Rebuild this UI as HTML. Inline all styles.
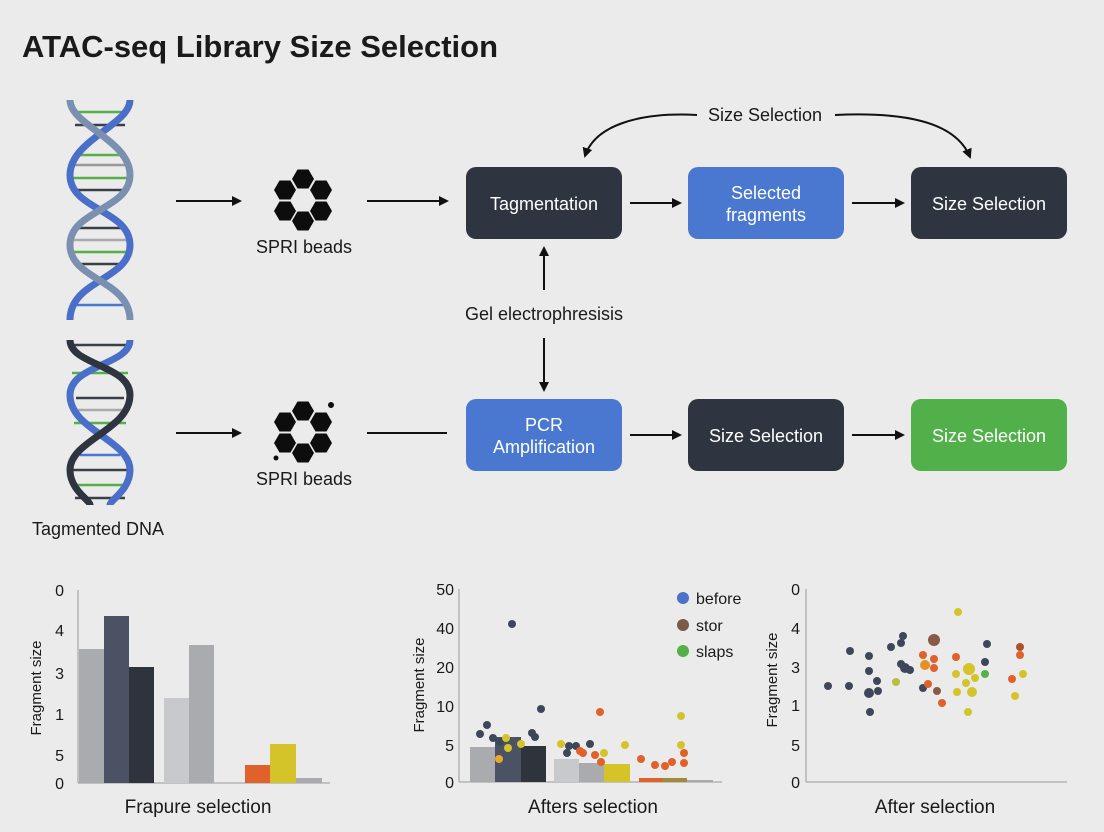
<!DOCTYPE html>
<html><head><meta charset="utf-8"><style>
html,body{margin:0;padding:0;background:#ebebeb;}
svg{display:block;font-family:"Liberation Sans","DejaVu Sans",sans-serif;}
</style></head><body>
<svg width="1104" height="832" viewBox="0 0 1104 832" xmlns="http://www.w3.org/2000/svg">
<defs>
<marker id="ah" markerWidth="10" markerHeight="10" refX="8" refY="5" orient="auto" markerUnits="userSpaceOnUse"><path d="M0,0 L10,5 L0,10 z" fill="#111"/></marker>
<g id="hex"><polygon points="-11,0 -5.5,-9.5 5.5,-9.5 11,0 5.5,9.5 -5.5,9.5" fill="#0d0d0d"/></g>
<g id="beads">
<use href="#hex" x="0" y="-21"/><use href="#hex" x="18" y="-10"/><use href="#hex" x="18" y="11"/>
<use href="#hex" x="0" y="21"/><use href="#hex" x="-18" y="11"/><use href="#hex" x="-18" y="-10"/>
</g>
</defs>
<rect width="1104" height="832" fill="#ebebeb"/>
<text x="22" y="57" font-size="31" font-weight="bold" fill="#1a1a1a">ATAC-seq Library Size Selection</text>

<!-- DNA -->
<g stroke-width="2.5">
<g stroke="#3a3f48">
<line x1="72" y1="112" x2="128" y2="112" stroke="#55b04a"/><line x1="75" y1="125" x2="125" y2="125"/><line x1="80" y1="155" x2="120" y2="155" stroke="#55b04a"/><line x1="74" y1="165" x2="126" y2="165" stroke="#999"/><line x1="72" y1="178" x2="128" y2="178" stroke="#55b04a"/><line x1="74" y1="190" x2="126" y2="190"/><line x1="78" y1="228" x2="122" y2="228"/><line x1="73" y1="240" x2="127" y2="240" stroke="#aaa"/><line x1="72" y1="252" x2="128" y2="252" stroke="#55b04a"/><line x1="74" y1="264" x2="126" y2="264"/><line x1="74" y1="305" x2="126" y2="305" stroke="#4a78d0"/>
<line x1="74" y1="345" x2="126" y2="345"/><line x1="72" y1="373" x2="128" y2="373" stroke="#55b04a"/><line x1="76" y1="398" x2="124" y2="398"/><line x1="72" y1="410" x2="128" y2="410" stroke="#aaa"/><line x1="74" y1="423" x2="126" y2="423" stroke="#55b04a"/><line x1="80" y1="455" x2="120" y2="455" stroke="#4a78d0"/><line x1="73" y1="470" x2="127" y2="470"/><line x1="72" y1="485" x2="128" y2="485" stroke="#55b04a"/><line x1="75" y1="498" x2="125" y2="498"/>
</g>
<g fill="none" stroke-width="7">
<path d="M130,100 C130,125 70,140 70,175 C70,210 130,210 130,245 C130,280 70,280 70,320" stroke="#4a6fc8"/>
<path d="M70,100 C70,125 130,140 130,175 C130,210 70,210 70,245 C70,280 130,280 130,320" stroke="#7b90b0"/>
<path d="M130,340 C130,365 70,365 70,395 C70,430 130,440 130,470 C130,490 110,500 110,505" stroke="#4a6fc8"/>
<path d="M70,340 C70,365 130,365 130,395 C130,430 70,440 70,470 C70,490 90,500 90,505" stroke="#2e3440"/>
</g>
</g>
<text x="32" y="535" font-size="18" fill="#1a1a1a">Tagmented DNA</text>

<!-- beads -->
<use href="#beads" x="303" y="200"/>
<use href="#beads" x="303" y="432"/>
<circle cx="331" cy="405" r="3" fill="#0d0d0d"/><circle cx="276" cy="458" r="2.5" fill="#0d0d0d"/>
<text x="304" y="253" font-size="18" text-anchor="middle" fill="#1a1a1a">SPRI beads</text>
<text x="304" y="485" font-size="18" text-anchor="middle" fill="#1a1a1a">SPRI beads</text>

<!-- arrows -->
<g stroke="#111" stroke-width="2" marker-end="url(#ah)">
<line x1="176" y1="201" x2="240" y2="201"/>
<line x1="367" y1="201" x2="447" y2="201"/>
<line x1="630" y1="203" x2="680" y2="203"/>
<line x1="852" y1="203" x2="903" y2="203"/>
<line x1="176" y1="433" x2="240" y2="433"/>
<line x1="630" y1="435" x2="680" y2="435"/>
<line x1="852" y1="435" x2="903" y2="435"/>
<line x1="544" y1="290" x2="544" y2="248"/>
<line x1="544" y1="338" x2="544" y2="390"/>
<path d="M697,115 C640,112 595,125 585,156" fill="none"/>
<path d="M835,115 C900,112 955,120 970,157" fill="none"/>
</g>
<line x1="367" y1="433" x2="447" y2="433" stroke="#111" stroke-width="2"/>
<text x="765" y="121" font-size="18" text-anchor="middle" fill="#1a1a1a">Size Selection</text>
<text x="544" y="320" font-size="18" text-anchor="middle" fill="#1a1a1a">Gel electrophresisis</text>

<!-- boxes -->
<g font-size="18" text-anchor="middle" fill="#fff">
<rect x="466" y="167" width="156" height="72" rx="10" fill="#2f3540"/>
<text x="544" y="210">Tagmentation</text>
<rect x="688" y="167" width="156" height="72" rx="10" fill="#4a78d0"/>
<text x="766" y="199">Selected</text><text x="766" y="221">fragments</text>
<rect x="911" y="167" width="156" height="72" rx="10" fill="#2f3540"/>
<text x="989" y="210">Size Selection</text>
<rect x="466" y="399" width="156" height="72" rx="10" fill="#4a78d0"/>
<text x="544" y="431">PCR</text><text x="544" y="453">Amplification</text>
<rect x="688" y="399" width="156" height="72" rx="10" fill="#2f3540"/>
<text x="766" y="442">Size Selection</text>
<rect x="911" y="399" width="156" height="72" rx="10" fill="#52b04a"/>
<text x="989" y="442">Size Selection</text>
</g>

<!-- chart 1 -->
<g font-size="16" fill="#1a1a1a">
<line x1="78" y1="590" x2="78" y2="783" stroke="#999"/>
<line x1="78" y1="783" x2="330" y2="783" stroke="#999"/>
<g text-anchor="end"><text x="64" y="596">0</text><text x="64" y="636">4</text><text x="64" y="679">3</text><text x="64" y="720">1</text><text x="64" y="761">5</text><text x="64" y="789">0</text></g>
<text transform="translate(41,688) rotate(-90)" font-size="15" text-anchor="middle">Fragment size</text>
<rect x="79" y="649" width="25" height="134" fill="#a9abae"/>
<rect x="104" y="616" width="25" height="167" fill="#4a5263"/>
<rect x="129" y="667" width="25" height="116" fill="#2e333c"/>
<rect x="164" y="698" width="25" height="85" fill="#c7c9cc"/>
<rect x="189" y="645" width="25" height="138" fill="#a9abae"/>
<rect x="245" y="765" width="25" height="18" fill="#e0622a"/>
<rect x="270" y="744" width="26" height="39" fill="#d4c42a"/>
<rect x="296" y="778" width="26" height="5" fill="#a9abae"/>
<text x="198" y="813" font-size="19" text-anchor="middle">Frapure selection</text>
</g>

<!-- chart 2 -->
<g font-size="16" fill="#1a1a1a">
<line x1="459" y1="589" x2="459" y2="782" stroke="#999"/>
<line x1="459" y1="782" x2="722" y2="782" stroke="#999"/>
<g text-anchor="end"><text x="454" y="595">50</text><text x="454" y="634">40</text><text x="454" y="673">20</text><text x="454" y="712">10</text><text x="454" y="751">5</text><text x="454" y="788">0</text></g>
<text transform="translate(424,685) rotate(-90)" font-size="15" text-anchor="middle">Fragment size</text>
<rect x="470" y="747" width="25" height="35" fill="#a9abae"/>
<rect x="495" y="737" width="26" height="45" fill="#4a5263"/>
<rect x="521" y="746" width="25" height="36" fill="#2e333c"/>
<rect x="554" y="759" width="25" height="23" fill="#c7c9cc"/>
<rect x="579" y="763" width="25" height="19" fill="#a9abae"/>
<rect x="604" y="764" width="26" height="18" fill="#d4c42a"/>
<rect x="639" y="778" width="23" height="4" fill="#e0622a"/>
<rect x="662" y="778" width="25" height="4" fill="#a08a3a"/>
<rect x="687" y="780" width="26" height="2" fill="#a9abae"/>
<g fill="#3e4759">
<circle cx="512" cy="624" r="4"/><circle cx="541" cy="709" r="4"/><circle cx="487" cy="725" r="4"/><circle cx="480" cy="734" r="4"/><circle cx="493" cy="738" r="4"/><circle cx="532" cy="733" r="4"/><circle cx="535" cy="737" r="4"/><circle cx="569" cy="746" r="4"/><circle cx="576" cy="746" r="4"/><circle cx="590" cy="744" r="4"/><circle cx="567" cy="753" r="4"/><circle cx="500" cy="742" r="4"/>
</g>
<g fill="#e0622a">
<circle cx="600" cy="712" r="4"/><circle cx="580" cy="751" r="4"/><circle cx="583" cy="753" r="4"/><circle cx="595" cy="755" r="4"/><circle cx="601" cy="762" r="4"/><circle cx="641" cy="759" r="4"/><circle cx="655" cy="765" r="4"/><circle cx="665" cy="766" r="4"/><circle cx="672" cy="762" r="4"/><circle cx="684" cy="753" r="4"/><circle cx="684" cy="763" r="4"/>
</g>
<g fill="#d4c42a">
<circle cx="681" cy="716" r="4"/><circle cx="681" cy="745" r="4"/><circle cx="625" cy="745" r="4"/><circle cx="604" cy="753" r="4"/><circle cx="561" cy="744" r="4"/><circle cx="506" cy="738" r="4"/><circle cx="508" cy="748" r="4"/><circle cx="521" cy="744" r="4"/><circle cx="499" cy="759" r="4" fill="#e6a92a"/>
</g>
<circle cx="683" cy="598" r="6" fill="#4a72c8"/><text x="696" y="604">before</text>
<circle cx="683" cy="625" r="6" fill="#7a5a48"/><text x="696" y="631">stor</text>
<circle cx="683" cy="651" r="6" fill="#55b04a"/><text x="696" y="657">slaps</text>
<text x="593" y="813" font-size="19" text-anchor="middle">Afters selection</text>
</g>

<!-- chart 3 -->
<g font-size="16" fill="#1a1a1a">
<line x1="806" y1="589" x2="806" y2="782" stroke="#999"/>
<line x1="806" y1="782" x2="1067" y2="782" stroke="#999"/>
<g text-anchor="end"><text x="800" y="595">0</text><text x="800" y="634">4</text><text x="800" y="673">3</text><text x="800" y="711">1</text><text x="800" y="751">5</text><text x="800" y="788">0</text></g>
<text transform="translate(777,680) rotate(-90)" font-size="15" text-anchor="middle">Fragment size</text>
<g fill="#3e4759">
<circle cx="828" cy="686" r="4"/><circle cx="849" cy="686" r="4"/><circle cx="850" cy="651" r="4"/><circle cx="869" cy="656" r="4"/><circle cx="869" cy="671" r="4"/><circle cx="877" cy="681" r="4"/><circle cx="878" cy="691" r="4"/><circle cx="869" cy="693" r="5"/><circle cx="870" cy="712" r="4"/><circle cx="891" cy="647" r="4"/><circle cx="901" cy="643" r="4"/><circle cx="903" cy="636" r="4"/><circle cx="901" cy="664" r="4"/><circle cx="905" cy="668" r="5"/><circle cx="910" cy="670" r="4"/><circle cx="923" cy="688" r="4"/><circle cx="987" cy="644" r="4"/><circle cx="985" cy="662" r="4"/>
</g>
<circle cx="896" cy="682" r="4" fill="#b8c040"/>
<circle cx="934" cy="640" r="6" fill="#8a5a48"/>
<g fill="#e0622a">
<circle cx="923" cy="655" r="4"/><circle cx="925" cy="665" r="5" fill="#e6902a"/><circle cx="934" cy="659" r="4"/><circle cx="934" cy="668" r="4"/><circle cx="928" cy="684" r="4"/><circle cx="937" cy="691" r="4" fill="#8a5a48"/><circle cx="942" cy="703" r="4"/><circle cx="956" cy="657" r="4"/><circle cx="1020" cy="647" r="4" fill="#b0502a"/><circle cx="1020" cy="655" r="4"/><circle cx="1012" cy="679" r="4"/>
</g>
<g fill="#d4c42a">
<circle cx="958" cy="612" r="4"/><circle cx="969" cy="669" r="6"/><circle cx="956" cy="674" r="4"/><circle cx="966" cy="683" r="4"/><circle cx="975" cy="678" r="4"/><circle cx="957" cy="692" r="4"/><circle cx="972" cy="692" r="5"/><circle cx="968" cy="712" r="4"/><circle cx="1023" cy="674" r="4"/><circle cx="1015" cy="696" r="4"/>
</g>
<circle cx="985" cy="674" r="4" fill="#55b04a"/>
<text x="935" y="813" font-size="19" text-anchor="middle">After selection</text>
</g>
</svg>
</body></html>
